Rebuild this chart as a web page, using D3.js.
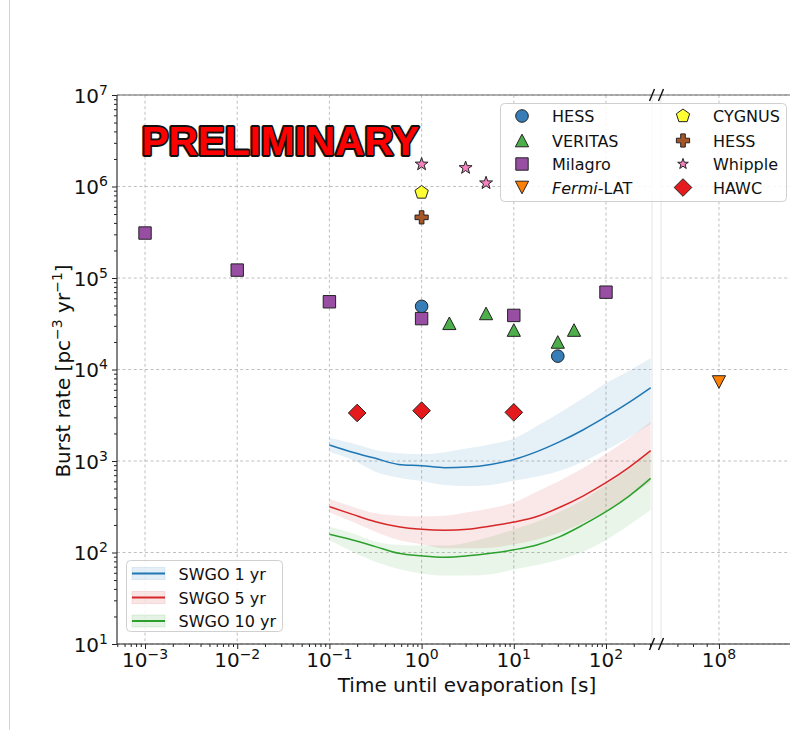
<!DOCTYPE html>
<html>
<head>
<meta charset="utf-8">
<script src="https://cdn.jsdelivr.net/npm/d3@7"></script>
<style>
  body { margin: 0; background: #fff; }
  text { font-family: "DejaVu Sans", sans-serif; }
</style>
</head>
<body>
<svg width="791" height="730"></svg>
<script>
// ---- data ----
var hessT = [1, 30],            hessR = [4.9e4, 1.4e4];
var veritasT = [2, 5, 10, 30, 45], veritasR = [3.2e4, 4.1e4, 2.7e4, 2.0e4, 2.7e4];
var milagroT = [1e-3, 1e-2, 1e-1, 1, 10, 100], milagroR = [3.1e5, 1.22e5, 5.5e4, 3.6e4, 3.9e4, 7.0e4];
var fermiT = [1e8],             fermiR = [7.3e3];
var cygnusT = [1],              cygnusR = [8.6e5];
var hessOldT = [1],             hessOldR = [4.6e5];
var whippleT = [1, 3, 5],       whippleR = [1.75e6, 1.6e6, 1.09e6];
var hawcT = [0.2, 1, 10],       hawcR = [3.35e3, 3.55e3, 3.4e3];

var swgoT = [0.1, 0.178, 0.316, 0.562, 1, 1.78, 3.16, 5.62, 10, 17.8, 31.6, 56.2, 100, 178, 305];
var swgo1 = [1496, 1245, 1069, 918, 889, 845, 859, 918, 1038, 1265, 1626, 2183, 3048, 4375, 6324];
var swgo1Hi = [1799, 1560, 1318, 1213, 1183, 1245, 1374, 1521, 1754, 2410, 3373, 4842, 7063, 9705, 13243];
var swgo1Lo = [1265, 1026, 764, 658, 604, 547, 533, 547, 607, 675, 783, 984, 1318, 1811, 2535];
var swgo5 = [317, 261, 217, 191, 179, 175, 179, 195, 215, 247, 312, 414, 579, 853, 1297];
var swgo5Hi = [385, 317, 268, 252, 247, 252, 275, 304, 352, 462, 610, 832, 1191, 1770, 2692];
var swgo5Lo = [275, 217, 169, 137, 123, 111, 111, 113, 123, 139, 165, 212, 286, 407, 594];
var swgo10 = [158, 137, 116, 98, 92, 89, 92, 98, 107, 121, 149, 200, 279, 414, 646];
var swgo10Hi = [191, 162, 131, 121, 119, 119, 129, 149, 178, 217, 279, 375, 547, 811, 1265];
var swgo10Lo = [137, 102, 79, 66, 59, 56, 56, 58, 65, 73, 84, 102, 137, 200, 291];

var xTicksLeft = [1e-3, 1e-2, 1e-1, 1, 10, 100], xTickExpLeft = ["\u22123", "\u22122", "\u22121", "0", "1", "2"];
var xTicksRight = [1e8], xTickExpRight = ["8"];
var yTicks = [10, 1e2, 1e3, 1e4, 1e5, 1e6, 1e7], yTickExp = ["1", "2", "3", "4", "5", "6", "7"];

// ---- layout ----
var svg = d3.select("svg"),
    pLeft = 117, pTop = 95, pBottom = 644, splitL = 652, splitR = 661, pRight = 790;

svg.append("rect").attr("width", 791).attr("height", 730).attr("fill", "#fff");
svg.append("line").attr("x1", 9.5).attr("x2", 9.5).attr("y1", 0).attr("y2", 730)
    .attr("stroke", "#d4d4d4");

var xL = d3.scaleLog().domain([Math.pow(10, -3.304), Math.pow(10, 2.499)]).range([pLeft, splitL]);
var xR = d3.scaleLog().domain([6.08e7, 1.84e8]).range([splitR, pRight]);
var y = d3.scaleLog().domain([10, 1e7]).range([pBottom, pTop]);

function minorTicks(scale, lo, hi) {
  var out = [], dom = scale.domain();
  for (var e = lo; e <= hi; e++)
    for (var k = 2; k <= 9; k++) {
      var v = k * Math.pow(10, e);
      if (v > dom[0] && v < dom[1]) out.push(v);
    }
  return out;
}

svg.append("clipPath").attr("id", "clipL").append("rect")
    .attr("x", pLeft).attr("y", pTop).attr("width", splitL - pLeft).attr("height", pBottom - pTop);

// grid
var grid = svg.append("g").attr("stroke", "#b0b0b0").attr("stroke-width", 0.8)
    .attr("stroke-dasharray", "3,2.6");
grid.selectAll(".gyl").data(yTicks).enter().append("line")
    .attr("x1", pLeft).attr("x2", splitL).attr("y1", y).attr("y2", y);
grid.selectAll(".gyr").data(yTicks).enter().append("line")
    .attr("x1", splitR).attr("x2", pRight).attr("y1", y).attr("y2", y);
grid.selectAll(".gxl").data(xTicksLeft).enter().append("line")
    .attr("x1", xL).attr("x2", xL).attr("y1", pTop).attr("y2", pBottom);
grid.selectAll(".gxr").data(xTicksRight).enter().append("line")
    .attr("x1", xR).attr("x2", xR).attr("y1", pTop).attr("y2", pBottom);

// panel edges at the break
svg.selectAll(".edge").data([splitL, splitR]).enter().append("line")
    .attr("x1", function(d) { return d; }).attr("x2", function(d) { return d; })
    .attr("y1", pTop).attr("y2", pBottom).attr("stroke", "#e4e4e4");

// SWGO bands and lines
var swgo = [
  {name: "SWGO 1 yr",  color: "#1f77b4", mid: swgo1,  lo: swgo1Lo,  hi: swgo1Hi},
  {name: "SWGO 5 yr",  color: "#d62728", mid: swgo5,  lo: swgo5Lo,  hi: swgo5Hi},
  {name: "SWGO 10 yr", color: "#2ca02c", mid: swgo10, lo: swgo10Lo, hi: swgo10Hi}
];
var area = d3.area().curve(d3.curveMonotoneX)
    .x(function(d) { return xL(d.t); })
    .y0(function(d) { return y(d.lo); })
    .y1(function(d) { return y(d.hi); });
var line = d3.line().curve(d3.curveMonotoneX)
    .x(function(d) { return xL(d.t); })
    .y(function(d) { return y(d.v); });

var curves = svg.append("g").attr("clip-path", "url(#clipL)");
swgo.forEach(function(s) {
  var rows = swgoT.map(function(t, i) { return {t: t, v: s.mid[i], lo: s.lo[i], hi: s.hi[i]}; });
  curves.append("path").datum(rows).attr("d", area)
      .attr("fill", s.color).attr("fill-opacity", 0.11);
  s.rows = rows;
});
swgo.forEach(function(s) {
  curves.append("path").datum(s.rows).attr("d", line)
      .attr("fill", "none").attr("stroke", s.color).attr("stroke-width", 1.5);
});

// marker shapes
function poly(pts) { return "M" + pts.map(function(p) { return p[0].toFixed(2) + "," + p[1].toFixed(2); }).join("L") + "Z"; }
function starPath(ro, ri, n) {
  var pts = [];
  for (var i = 0; i < 2 * n; i++) {
    var a = -Math.PI / 2 + i * Math.PI / n, r = i % 2 ? ri : ro;
    pts.push([r * Math.cos(a), r * Math.sin(a)]);
  }
  return poly(pts);
}
function pentagon(r) {
  var pts = [];
  for (var i = 0; i < 5; i++) {
    var a = -Math.PI / 2 + i * 2 * Math.PI / 5;
    pts.push([r * Math.cos(a), r * Math.sin(a)]);
  }
  return poly(pts);
}
var a = 6.6, b = 2.3;
var shapes = {
  circle: d3.symbol(d3.symbolCircle, Math.PI * 6.3 * 6.3)(),
  square: d3.symbol(d3.symbolSquare, 12.4 * 12.4)(),
  triUp: poly([[0, -6.3], [6.6, 6.3], [-6.6, 6.3]]),
  triDown: poly([[0, 6.3], [6.6, -6.3], [-6.6, -6.3]]),
  diamond: poly([[0, -8.8], [8.8, 0], [0, 8.8], [-8.8, 0]]),
  pentagon: pentagon(7),
  star: starPath(6.8, 2.7, 5),
  starSmall: starPath(5.6, 2.2, 5),
  plus: poly([[-b, -a], [b, -a], [b, -b], [a, -b], [a, b], [b, b], [b, a], [-b, a], [-b, b], [-a, b], [-a, -b], [-b, -b]])
};

var series = [
  {t: milagroT, r: milagroR, shape: "square",   color: "#984ea3", x: xL},
  {t: hessT,    r: hessR,    shape: "circle",   color: "#377eb8", x: xL},
  {t: veritasT, r: veritasR, shape: "triUp",    color: "#4daf4a", x: xL},
  {t: fermiT,   r: fermiR,   shape: "triDown",  color: "#ff7f00", x: xR},
  {t: cygnusT,  r: cygnusR,  shape: "pentagon", color: "#ffff33", x: xL},
  {t: hessOldT, r: hessOldR, shape: "plus",     color: "#a65628", x: xL},
  {t: whippleT, r: whippleR, shape: "star",     color: "#f781bf", x: xL},
  {t: hawcT,    r: hawcR,    shape: "diamond",  color: "#e41a1c", x: xL}
];
var marks = svg.append("g");
series.forEach(function(s) {
  marks.selectAll(null).data(s.t).enter().append("path")
      .attr("d", shapes[s.shape])
      .attr("transform", function(t, i) { return "translate(" + s.x(t) + "," + y(s.r[i]) + ")"; })
      .attr("fill", s.color).attr("stroke", "#222").attr("stroke-width", 1);
});

// axes
function styleAxis(g) { g.select(".domain").remove(); g.attr("color", "#222"); }
svg.append("g").attr("transform", "translate(0," + pBottom + ")")
    .call(d3.axisBottom(xL).tickValues(xTicksLeft).tickFormat("").tickSize(5)).call(styleAxis);
svg.append("g").attr("transform", "translate(0," + pBottom + ")")
    .call(d3.axisBottom(xL).tickValues(minorTicks(xL, -4, 2)).tickFormat("").tickSize(3)).call(styleAxis);
svg.append("g").attr("transform", "translate(0," + pBottom + ")")
    .call(d3.axisBottom(xR).tickValues(xTicksRight).tickFormat("").tickSize(5)).call(styleAxis);
svg.append("g").attr("transform", "translate(0," + pBottom + ")")
    .call(d3.axisBottom(xR).tickValues(minorTicks(xR, 7, 8)).tickFormat("").tickSize(3)).call(styleAxis);
svg.append("g").attr("transform", "translate(" + pLeft + ",0)")
    .call(d3.axisLeft(y).tickValues(yTicks).tickFormat("").tickSize(5)).call(styleAxis);
svg.append("g").attr("transform", "translate(" + pLeft + ",0)")
    .call(d3.axisLeft(y).tickValues(minorTicks(y, 1, 6)).tickFormat("").tickSize(3)).call(styleAxis);

// spines
svg.append("line").attr("x1", pLeft).attr("x2", pRight).attr("y1", pTop).attr("y2", pTop)
    .attr("stroke", "#666").attr("stroke-width", 1.2);
svg.append("line").attr("x1", pLeft).attr("x2", pRight).attr("y1", pBottom).attr("y2", pBottom)
    .attr("stroke", "#222").attr("stroke-width", 1.2);
svg.append("line").attr("x1", pLeft).attr("x2", pLeft).attr("y1", pTop).attr("y2", pBottom)
    .attr("stroke", "#333").attr("stroke-width", 1.2);

// break marks
[pTop, pBottom].forEach(function(yy) {
  [splitL, splitR].forEach(function(xx) {
    svg.append("line").attr("x1", xx - 2.5).attr("x2", xx + 2.5)
        .attr("y1", yy + 6).attr("y2", yy - 6)
        .attr("stroke", "#111").attr("stroke-width", 1.4);
  });
});

// tick labels
function powerLabel(sel, exp) {
  sel.append("tspan").text("10");
  sel.append("tspan").attr("dy", -8).attr("font-size", 14).text(exp);
}
xTicksLeft.forEach(function(t, i) {
  svg.append("text").attr("x", xL(t)).attr("y", pBottom + 23).attr("text-anchor", "middle")
      .attr("font-size", 20).attr("fill", "#111").call(powerLabel, xTickExpLeft[i]);
});
xTicksRight.forEach(function(t, i) {
  svg.append("text").attr("x", xR(t)).attr("y", pBottom + 23).attr("text-anchor", "middle")
      .attr("font-size", 20).attr("fill", "#111").call(powerLabel, xTickExpRight[i]);
});
yTicks.forEach(function(v, i) {
  svg.append("text").attr("x", pLeft - 9).attr("y", y(v) + 7.5).attr("text-anchor", "end")
      .attr("font-size", 20).attr("fill", "#111").call(powerLabel, yTickExp[i]);
});

// axis titles
svg.append("text").attr("x", 467).attr("y", 692).attr("text-anchor", "middle")
    .attr("font-size", 20).attr("fill", "#111").text("Time until evaporation [s]");
var yl = svg.append("text").attr("transform", "translate(70,371) rotate(-90)")
    .attr("text-anchor", "middle").attr("font-size", 20).attr("fill", "#111");
yl.append("tspan").text("Burst rate [pc");
yl.append("tspan").attr("dy", -8).attr("font-size", 14).text("\u22123");
yl.append("tspan").attr("dy", 8).text(" yr");
yl.append("tspan").attr("dy", -8).attr("font-size", 14).text("\u22121");
yl.append("tspan").attr("dy", 8).text("]");

// PRELIMINARY stamp
svg.append("text").attr("x", 141.5).attr("y", 155)
    .style("font-family", "'Liberation Sans', Arial, sans-serif")
    .attr("font-size", 40.5).attr("font-weight", "bold")
    .attr("fill", "#ff0000").attr("stroke", "#111").attr("stroke-width", 3.8)
    .attr("stroke-linejoin", "round").attr("paint-order", "stroke")
    .text("PRELIMINARY");

// marker legend
var legendItems = [
  {label: "HESS",    shape: "circle",    color: "#377eb8", col: 0, row: 0},
  {label: "VERITAS", shape: "triUp",     color: "#4daf4a", col: 0, row: 1},
  {label: "Milagro", shape: "square",    color: "#984ea3", col: 0, row: 2},
  {label: "-LAT",    shape: "triDown",   color: "#ff7f00", col: 0, row: 3, italic: "Fermi"},
  {label: "CYGNUS",  shape: "pentagon",  color: "#ffff33", col: 1, row: 0},
  {label: "HESS",    shape: "plus",      color: "#a65628", col: 1, row: 1},
  {label: "Whipple", shape: "starSmall", color: "#f781bf", col: 1, row: 2},
  {label: "HAWC",    shape: "diamond",   color: "#e41a1c", col: 1, row: 3}
];
var rowY = [116, 140.5, 164, 187.5], markX = [522, 683], textX = [552, 713];
var lg = svg.append("g");
lg.append("rect").attr("x", 500.5).attr("y", 103.5).attr("width", 286).attr("height", 98)
    .attr("rx", 4).attr("fill", "#fff").attr("fill-opacity", 0.85).attr("stroke", "#d0d0d0");
legendItems.forEach(function(d) {
  lg.append("path").attr("d", shapes[d.shape])
      .attr("transform", "translate(" + markX[d.col] + "," + rowY[d.row] + ")")
      .attr("fill", d.color).attr("stroke", "#222").attr("stroke-width", 1);
  var t = lg.append("text").attr("x", textX[d.col]).attr("y", rowY[d.row] + 6)
      .attr("font-size", 16).attr("fill", "#111");
  if (d.italic) t.append("tspan").attr("font-style", "italic").text(d.italic);
  t.append("tspan").text(d.label);
});

// SWGO legend
var lg2 = svg.append("g");
lg2.append("rect").attr("x", 126.5).attr("y", 560.5).attr("width", 156).attr("height", 71)
    .attr("rx", 4).attr("fill", "#fff").attr("fill-opacity", 0.85).attr("stroke", "#d0d0d0");
var rowY2 = [573.5, 597.5, 621];
swgo.forEach(function(s, i) {
  lg2.append("rect").attr("x", 132).attr("y", rowY2[i] - 6).attr("width", 33).attr("height", 12)
      .attr("fill", s.color).attr("fill-opacity", 0.12)
      .attr("stroke", s.color).attr("stroke-opacity", 0.12);
  lg2.append("line").attr("x1", 132).attr("x2", 165).attr("y1", rowY2[i]).attr("y2", rowY2[i])
      .attr("stroke", s.color).attr("stroke-width", 2);
  lg2.append("text").attr("x", 178.5).attr("y", rowY2[i] + 6)
      .attr("font-size", 16).attr("fill", "#111").text(s.name);
});
</script>
</body>
</html>
